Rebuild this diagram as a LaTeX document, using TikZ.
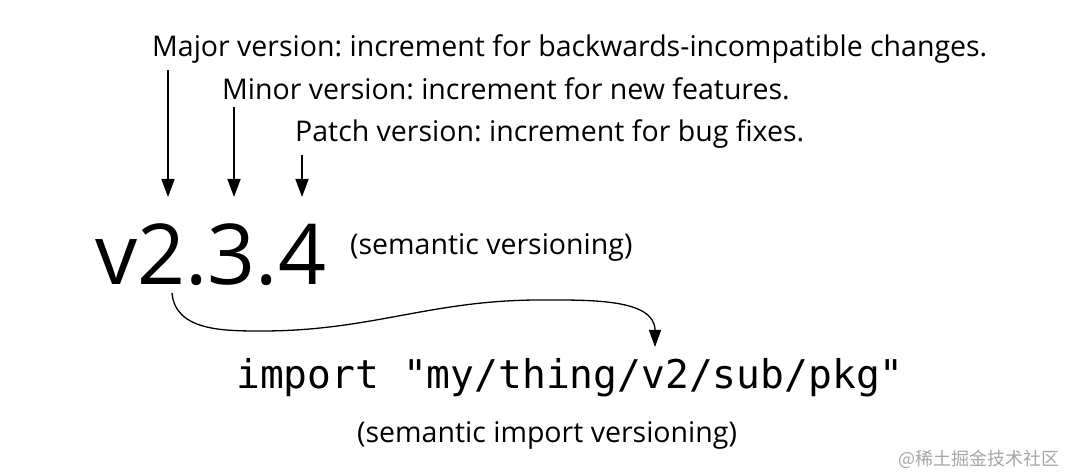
\documentclass[tikz,border=0pt]{standalone}
\usepackage{fontspec}
\setmainfont{Open Sans}
\setmonofont{DejaVu Sans Mono}
\newfontfamily\cjk{Noto Sans CJK SC}
\usetikzlibrary{arrows.meta,positioning}
\frenchspacing
\begin{document}
\begin{tikzpicture}[x=1pt,y=1pt,
    remark/.style={inner sep=0pt,anchor=base west,font=\fontsize{28.5}{32}\selectfont},
    pointer/.style={line width=1.6pt,-{Triangle[length=18pt,width=13pt]}},
    swoop/.style={line width=1.3pt,-{Triangle[length=17pt,width=12pt]}}]
  \useasboundingbox (0,0) rectangle (1066,476);
  % the three parts of the version
  \node[remark] (major) at (152,419) {Major version: increment for backwards-incompatible changes.};
  \node[remark] (minor) at (222,376) {Minor version: increment for new features.};
  \node[remark] (patch) at (295,334) {Patch version: increment for bug fixes.};
  \node[inner sep=0pt,anchor=base west,font=\fontsize{84}{90}\selectfont] (ver) at (95,191) {v2.3.4};
  \node[remark] (semver) at (350,221) {(semantic versioning)};
  \node[inner sep=0pt,anchor=base west,font=\ttfamily\fontsize{39.6}{42}\selectfont] (imp) at (236,87) {import "my/thing/v2/sub/pkg"};
  \node[remark] (sivnote) at (357,33) {(semantic import versioning)};
  \node[inner sep=0pt,anchor=base east,text=black!35,font=\cjk\fontsize{18}{20}\selectfont] (mark) at (1060,10) {@稀土掘金技术社区};
  \coordinate (majtip) at (168,279);
  \coordinate (mintip) at (234,279);
  \coordinate (pattip) at (302,279);
  \draw[pointer] (major.south -| majtip) ++(0,-6) -- (majtip);
  \draw[pointer] (minor.south -| mintip) ++(0,-6) -- (mintip);
  \draw[pointer] (patch.south -| pattip) ++(0,-6) -- (pattip);
  % major version goes into the import path
  \coordinate (vfrom) at (172,183);
  \coordinate (vlow) at (262,145);
  \coordinate (vtop) at (540,176);
  \coordinate (vto) at (655,129);
  \draw[swoop] (vfrom) to[out=-85,in=180] (vlow) to[out=0,in=180] (vtop) to[out=0,in=90] (vto);
\end{tikzpicture}
\end{document}
